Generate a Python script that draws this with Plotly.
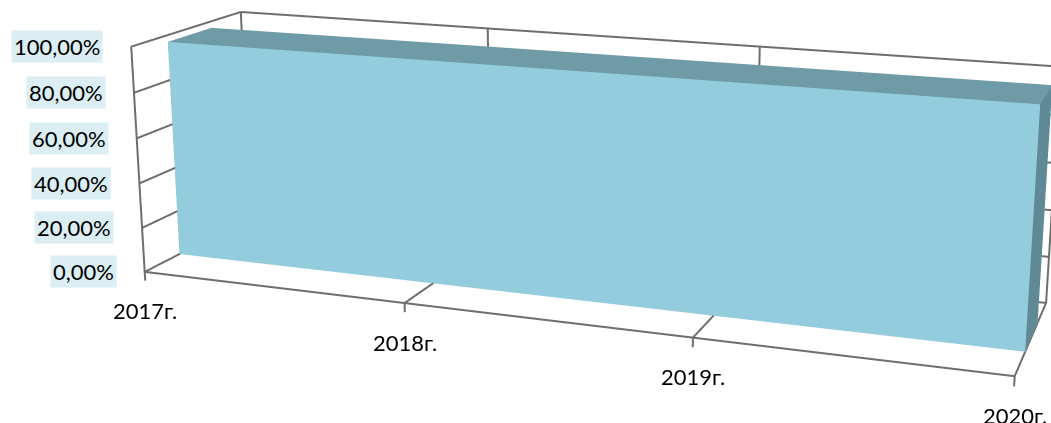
import plotly.graph_objects as go

# ---- data ----
categories = ["2017г.", "2018г.", "2019г.", "2020г."]
values = [0.970, 0.973, 0.975, 0.977]
value_ticks = [0.0, 0.2, 0.4, 0.6, 0.8, 1.0]
value_labels = ["0,00%", "20,00%", "40,00%", "60,00%", "80,00%", "100,00%"]

# ---- style / geometry ----
FRONT = "#93CDDD"
TOP = "#6F9BA7"
END = "#5F8A95"
GRID = "#6E6E6E"
LABEL_BG = "#DAEEF3"
FONT = "Lato"
Y_FRONT, Y_BACK = 0.31, 0.71          # depth band of the area series
Z_TICK = -0.04                         # tick marks below the floor
n = len(categories)
xs = list(range(n))
x_max = n - 1

# axis ranges (slightly padded so edge lines are not clipped)
XR = [-0.01, x_max + 0.01]
YR = [-0.01, 1.01]
ZR = [Z_TICK - 0.005, 1.01]
UNIT = (3.753 / 3, 0.919, 1.0)       # scene units per data unit
aspect = dict(x=UNIT[0] * (XR[1] - XR[0]), y=UNIT[1] * (YR[1] - YR[0]), z=UNIT[2] * (ZR[1] - ZR[0]))
look = (x_max / 2, 0.5, 0.5)
ctr = [(look[k] - (r[0] + r[1]) / 2) * UNIT[k] for k, r in enumerate([XR, YR, ZR])]
view = (2.704, -7.372, 2.039)

# ---- slab (3D area) ----
vx, vy, vz = [], [], []
for i, v in zip(xs, values):
    vx += [i, i, i, i]
    vy += [Y_FRONT, Y_FRONT, Y_BACK, Y_BACK]
    vz += [0, v, 0, v]
I, J, K, fc = [], [], [], []
def quad(a, b, c, d, col):
    I.extend([a, a]); J.extend([b, c]); K.extend([c, d]); fc.extend([col, col])
for i in range(n - 1):
    a = 4 * i; b = 4 * (i + 1)
    quad(a + 0, b + 0, b + 1, a + 1, FRONT)   # front
    quad(a + 1, b + 1, b + 3, a + 3, TOP)     # top
    quad(a + 2, b + 2, b + 3, a + 3, FRONT)   # back
    quad(a + 0, b + 0, b + 2, a + 2, FRONT)   # bottom
last = 4 * (n - 1)
quad(0, 2, 3, 1, END)                          # left end
quad(last, last + 2, last + 3, last + 1, END)  # right end

slab = go.Mesh3d(x=vx, y=vy, z=vz, i=I, j=J, k=K, facecolor=fc, flatshading=True,
                 lighting=dict(ambient=1, diffuse=0, specular=0, roughness=1, fresnel=0),
                 hoverinfo="skip", showscale=False)

# ---- walls, floor, grid ----
lx, ly, lz = [], [], []
def seg(p, q):
    lx.extend([p[0], q[0], None]); ly.extend([p[1], q[1], None]); lz.extend([p[2], q[2], None])
for zt in value_ticks:
    seg((0, 0, zt), (0, 1, zt))          # side wall
    seg((0, 1, zt), (x_max, 1, zt))      # back wall
seg((0, 0, Z_TICK), (0, 0, 1))
seg((0, 1, 0), (0, 1, 1))
seg((0, 0, 0), (x_max, 0, 0))
for xt in xs[1:]:
    seg((xt, 1, 0), (xt, 1, 1))
    seg((xt, 0, 0), (xt, 1, 0))
    seg((xt, 0, 0), (xt, 0, Z_TICK))
grid = go.Scatter3d(x=lx, y=ly, z=lz, mode="lines", line=dict(color=GRID, width=4),
                    hoverinfo="skip", showlegend=False)

fig = go.Figure([grid, slab])

ann = []
for zt, lab in zip(value_ticks, value_labels):
    ann.append(dict(x=0, y=0, z=zt, text=lab, showarrow=False, xanchor="right", xshift=-28,
                    bgcolor=LABEL_BG, borderpad=2, font=dict(family=FONT, size=22, color="black")))
for xt, cat in zip(xs, categories):
    ann.append(dict(x=xt, y=0, z=0, text=cat, showarrow=False, xanchor="center", yshift=-39,
                    font=dict(family=FONT, size=22, color="black")))

hidden = dict(visible=False, showspikes=False)
fig.update_layout(
    width=1168, height=1601, margin=dict(l=0, r=0, t=0, b=0),
    paper_bgcolor="white", showlegend=False, hovermode=False,
    scene=dict(
        domain=dict(x=[0, 1], y=[0, 1]),
        xaxis=dict(range=XR, **hidden),
        yaxis=dict(range=YR, **hidden),
        zaxis=dict(range=ZR, **hidden),
        aspectmode="manual", aspectratio=aspect,
        camera=dict(eye=dict(x=ctr[0] + view[0], y=ctr[1] + view[1], z=ctr[2] + view[2]),
                    center=dict(x=ctr[0], y=ctr[1], z=ctr[2]),
                    up=dict(x=0, y=0, z=1), projection=dict(type="perspective")),
        annotations=ann,
    ),
)

post = ("var gd=document.getElementById('{plot_id}');gd.style.marginTop='-627px';"
        "document.body.style.margin='0';document.body.style.overflow='hidden';"
        "document.documentElement.style.overflow='hidden';")
fig.write_html("out.html", post_script=post)
